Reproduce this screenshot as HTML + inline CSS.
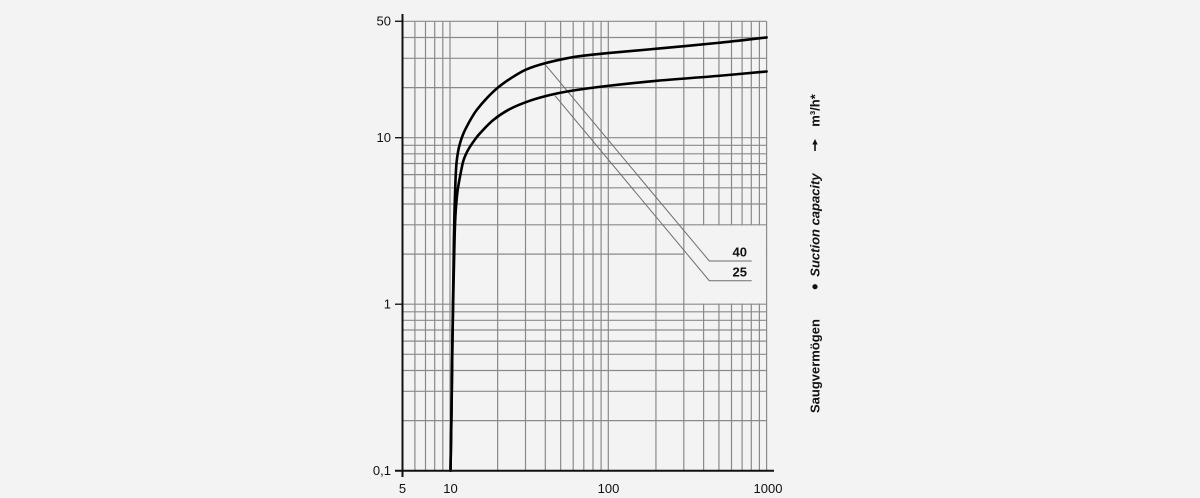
<!DOCTYPE html>
<html>
<head>
<meta charset="utf-8">
<style>
  html,body{margin:0;padding:0;background:#f3f3f3;}
  svg{display:block;}
  text{font-family:"Liberation Sans", Arial, sans-serif;fill:#111;}
</style>
</head>
<body>
<svg id="chart" width="1200" height="498" viewBox="0 0 1200 498" xmlns="http://www.w3.org/2000/svg">
  <rect width="1200" height="498" fill="#f3f3f3"/>
  <!-- vertical grid lines -->
  <g stroke="#8a8a8a" stroke-width="1.2" fill="none">
    <line x1="414.9" y1="21.3" x2="414.9" y2="470.7"/>
    <line x1="425.5" y1="21.3" x2="425.5" y2="470.7"/>
    <line x1="434.7" y1="21.3" x2="434.7" y2="470.7"/>
    <line x1="442.8" y1="21.3" x2="442.8" y2="470.7"/>
    <line x1="450" y1="21.3" x2="450" y2="470.7"/>
    <line x1="497.65" y1="21.3" x2="497.65" y2="470.7"/>
    <line x1="525.5" y1="21.3" x2="525.5" y2="470.7"/>
    <line x1="545.3" y1="21.3" x2="545.3" y2="470.7"/>
    <line x1="560.65" y1="21.3" x2="560.65" y2="470.7"/>
    <line x1="573.2" y1="21.3" x2="573.2" y2="470.7"/>
    <line x1="583.8" y1="21.3" x2="583.8" y2="470.7"/>
    <line x1="593" y1="21.3" x2="593" y2="470.7"/>
    <line x1="601.1" y1="21.3" x2="601.1" y2="470.7"/>
    <line x1="608.3" y1="21.3" x2="608.3" y2="470.7"/>
    <line x1="655.95" y1="21.3" x2="655.95" y2="470.7"/>
    <line x1="683.8" y1="21.3" x2="683.8" y2="470.7"/>
    <line x1="703.6" y1="21.3" x2="703.6" y2="470.7"/>
    <line x1="718.95" y1="21.3" x2="718.95" y2="470.7"/>
    <line x1="731.5" y1="21.3" x2="731.5" y2="470.7"/>
    <line x1="742.1" y1="21.3" x2="742.1" y2="470.7"/>
    <line x1="751.3" y1="21.3" x2="751.3" y2="470.7"/>
    <line x1="759.4" y1="21.3" x2="759.4" y2="470.7"/>
    <line x1="766.6" y1="21.3" x2="766.6" y2="470.7"/>
  </g>
  <!-- horizontal grid lines -->
  <g stroke="#8a8a8a" stroke-width="1.2" fill="none">
    <line x1="402.5" y1="420.6" x2="766.6" y2="420.6"/>
    <line x1="402.5" y1="391.3" x2="766.6" y2="391.3"/>
    <line x1="402.5" y1="370.5" x2="766.6" y2="370.5"/>
    <line x1="402.5" y1="354.3" x2="766.6" y2="354.3"/>
    <line x1="402.5" y1="341.1" x2="766.6" y2="341.1"/>
    <line x1="402.5" y1="330" x2="766.6" y2="330"/>
    <line x1="402.5" y1="320.3" x2="766.6" y2="320.3"/>
    <line x1="402.5" y1="311.8" x2="766.6" y2="311.8"/>
    <line x1="395" y1="304.2" x2="766.6" y2="304.2"/>
    <line x1="402.5" y1="254.1" x2="766.6" y2="254.1"/>
    <line x1="402.5" y1="224.8" x2="766.6" y2="224.8"/>
    <line x1="402.5" y1="204" x2="766.6" y2="204"/>
    <line x1="402.5" y1="187.8" x2="766.6" y2="187.8"/>
    <line x1="402.5" y1="174.6" x2="766.6" y2="174.6"/>
    <line x1="402.5" y1="163.5" x2="766.6" y2="163.5"/>
    <line x1="402.5" y1="153.8" x2="766.6" y2="153.8"/>
    <line x1="402.5" y1="145.3" x2="766.6" y2="145.3"/>
    <line x1="395" y1="137.7" x2="766.6" y2="137.7"/>
    <line x1="402.5" y1="87.6" x2="766.6" y2="87.6"/>
    <line x1="402.5" y1="58.3" x2="766.6" y2="58.3"/>
    <line x1="402.5" y1="37.5" x2="766.6" y2="37.5"/>
    <line x1="395" y1="21.3" x2="766.6" y2="21.3"/>
  </g>
  <!-- label box (hides grid) -->
  <rect x="684.6" y="225.5" width="81.3" height="78" fill="#f3f3f3"/>

  <!-- leader lines -->
  <g stroke="#6e6e6e" stroke-width="1" fill="none">
    <polyline points="545,64.3 709.3,261 751.7,261"/>
    <polyline points="555,95.7 709.3,280.7 751.7,280.7"/>
  </g>
  <text x="747" y="256.7" font-size="13" font-weight="bold" text-anchor="end">40</text>
  <text x="747" y="276.7" font-size="13" font-weight="bold" text-anchor="end">25</text>

  <!-- curves -->
  <g stroke="#000" stroke-width="2.6" fill="none" stroke-linejoin="round" stroke-linecap="round">
    <polyline class="smooth" points="450.5,470.7 451.2,430 451.8,390 452.4,340 453.2,290 453.9,240 454.6,207 455.5,180 456.5,163 458,152 460,143.3 463,134.5 466.7,126.7 471.5,118 476.7,110 486.7,98.3 498.3,87.3 513.3,76.7 526.7,69.3 545,63.3 566.7,58.3 583.3,55.7 606.7,53.2 656.7,48.7 716.7,43 766.6,37.4"/>
    <polyline class="smooth" points="450.5,470.7 451.2,430 451.8,390 452.5,340 453.4,290 454.3,250 455,225 456,207 457.7,190 460.5,174 463.3,161 466.5,153 470,146.7 475,139.5 480,133.3 493.3,120 510,109 530,100.7 550,95 570,91 606.7,86 656.7,80.8 716.7,76 766.6,71.5"/>
  </g>

  <!-- axes -->
  <g stroke="#111" stroke-width="2" fill="none">
    <line x1="402.5" y1="14" x2="402.5" y2="477"/>
    <line x1="395" y1="470.7" x2="774" y2="470.7"/>
  </g>
  <g stroke="#111" stroke-width="1.3">
    <line x1="395" y1="304.2" x2="402.5" y2="304.2"/>
    <line x1="395" y1="137.7" x2="402.5" y2="137.7"/>
    <line x1="395" y1="21.3" x2="402.5" y2="21.3"/>
  </g>

  <!-- y labels -->
  <g font-size="13" text-anchor="end">
    <text x="391" y="475">0,1</text>
    <text x="391" y="308.5">1</text>
    <text x="391" y="142">10</text>
    <text x="391" y="25.6">50</text>
  </g>
  <!-- x labels -->
  <g font-size="13" text-anchor="middle">
    <text x="402.5" y="493">5</text>
    <text x="450.5" y="493">10</text>
    <text x="608.5" y="493">100</text>
    <text x="768" y="493">1000</text>
  </g>

  <!-- right axis title -->
  <g transform="translate(819.5,413) rotate(-90)" font-size="13" font-weight="bold">
    <text x="0" y="0">Saugvermögen</text>
    <text x="136.3" y="0" font-style="italic">Suction capacity</text>
    <text x="286.3" y="0">m³/h*</text>
  </g>
  <circle cx="815" cy="286.7" r="2.6" fill="#111"/>
  <line x1="815" y1="151" x2="815" y2="143" stroke="#111" stroke-width="1.6"/>
  <polygon points="812.3,144.5 817.7,144.5 815,139" fill="#111"/>
</svg>
<script>
(function(){
  var svgNS="http://www.w3.org/2000/svg";
  var pls=document.querySelectorAll("polyline.smooth");
  for(var i=0;i<pls.length;i++){
    var pl=pls[i];
    var raw=pl.getAttribute("points").trim().split(/\s+/);
    var p=raw.map(function(s){var a=s.split(",");return [parseFloat(a[0]),parseFloat(a[1])];});
    var d="M"+p[0][0]+","+p[0][1];
    for(var k=0;k<p.length-1;k++){
      var p0=p[k>0?k-1:0],p1=p[k],p2=p[k+1],p3=p[k+2<p.length?k+2:p.length-1];
      var c1x=p1[0]+(p2[0]-p0[0])/6,c1y=p1[1]+(p2[1]-p0[1])/6;
      var c2x=p2[0]-(p3[0]-p1[0])/6,c2y=p2[1]-(p3[1]-p1[1])/6;
      d+=" C"+c1x.toFixed(2)+","+c1y.toFixed(2)+" "+c2x.toFixed(2)+","+c2y.toFixed(2)+" "+p2[0]+","+p2[1];
    }
    var path=document.createElementNS(svgNS,"path");
    path.setAttribute("d",d);
    pl.parentNode.replaceChild(path,pl);
  }
})();
</script>
</body>
</html>
